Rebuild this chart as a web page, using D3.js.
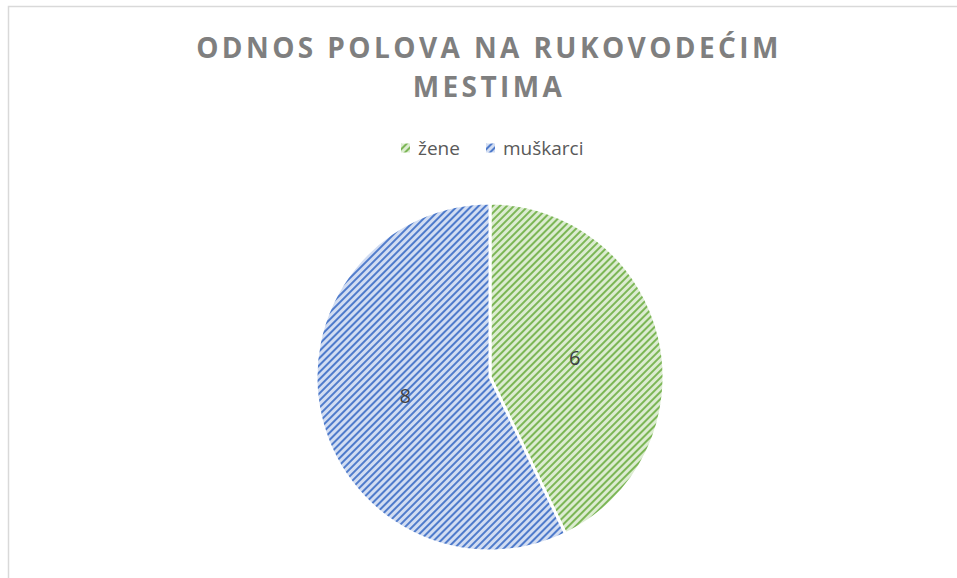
<!DOCTYPE html>
<html>
<head>
<meta charset="utf-8">
<script src="https://cdn.jsdelivr.net/npm/d3@7"></script>
<style>
  body { margin: 0; background: #fff; }
  svg { display: block; }
</style>
</head>
<body>
<div id="chart"></div>
<script>
// chart values
const categories = ["žene", "muškarci"];
const values = [6, 8];
const titleLines = ["ODNOS POLOVA NA RUKOVODEĆIM", "MESTIMA"];

const width = 957, height = 578;
const colors = {"žene": ["#7cb656", "#dcecd1"], "muškarci": ["#4f7bcb", "#d2ddf2"]};

const svg = d3.select("#chart").append("svg")
    .attr("width", width)
    .attr("height", height);

// chart area border (runs off right/bottom)
svg.append("rect")
    .attr("x", 8.5).attr("y", 6.5)
    .attr("width", 1000).attr("height", 700)
    .attr("fill", "none")
    .attr("stroke", "#d9d9d9")
    .attr("stroke-width", 1.5);

// stripe patterns
let defs = svg.append("defs");
categories.forEach((c, i) => {
    let p = defs.append("pattern")
        .attr("id", "stripe" + i)
        .attr("patternUnits", "userSpaceOnUse")
        .attr("width", 5).attr("height", 5)
        .attr("patternTransform", "rotate(45)");
    p.append("rect").attr("width", 5).attr("height", 5).attr("fill", colors[c][1]);
    p.append("rect").attr("width", 2).attr("height", 5).attr("fill", colors[c][0]);
});

// title
let title = svg.append("text")
    .attr("text-anchor", "middle")
    .attr("fill", "#7f7f7f")
    .style("font-family", "'Open Sans', sans-serif")
    .style("font-weight", "bold")
    .style("font-size", "28px");
title.selectAll("tspan")
    .data(titleLines)
    .join("tspan")
    .attr("x", 489)
    .attr("y", (d, i) => 58 + i * 39)
    .style("letter-spacing", "3.4px")
    .text(d => d);

// legend
let legendX = d3.scaleOrdinal().domain(categories).range([401, 486]);
let legend = svg.append("g");
let items = legend.selectAll("g")
    .data(categories)
    .join("g")
    .attr("transform", d => `translate(${legendX(d)},148)`);
items.append("rect")
    .attr("x", 0).attr("y", -4.5)
    .attr("width", 9).attr("height", 9)
    .attr("fill", (d, i) => `url(#stripe${i})`);
items.append("text")
    .attr("x", 17).attr("y", 0)
    .attr("dy", "0.35em")
    .attr("fill", "#595959")
    .style("font-family", "'Open Sans', sans-serif")
    .style("font-size", "19px")
    .text(d => d);

// pie
const cx = 490, cy = 377, radius = 174;
let pie = d3.pie().sort(null).value(d => d.value);
let arc = d3.arc().innerRadius(0).outerRadius(radius);
let data = categories.map((c, i) => ({name: c, value: values[i], idx: i}));

let g = svg.append("g").attr("transform", `translate(${cx},${cy})`);
let arcs = pie(data);
g.selectAll("path")
    .data(arcs)
    .join("path")
    .attr("d", arc)
    .attr("fill", d => `url(#stripe${d.data.idx})`)
    .attr("stroke", "#fff")
    .attr("stroke-width", 3)
    .attr("stroke-linejoin", "round");

// data labels
let labelArc = d3.arc().innerRadius(radius * 0.5).outerRadius(radius * 0.5);
g.selectAll("text.lbl")
    .data(arcs)
    .join("text")
    .attr("class", "lbl")
    .attr("transform", d => {
        let [x, y] = labelArc.centroid(d);
        return `translate(${x},${y})`;
    })
    .attr("text-anchor", "middle")
    .attr("dy", "0.35em")
    .attr("fill", "#404040")
    .style("font-family", "'Open Sans', sans-serif")
    .style("font-size", "20px")
    .text(d => d.data.value);
</script>
</body>
</html>
